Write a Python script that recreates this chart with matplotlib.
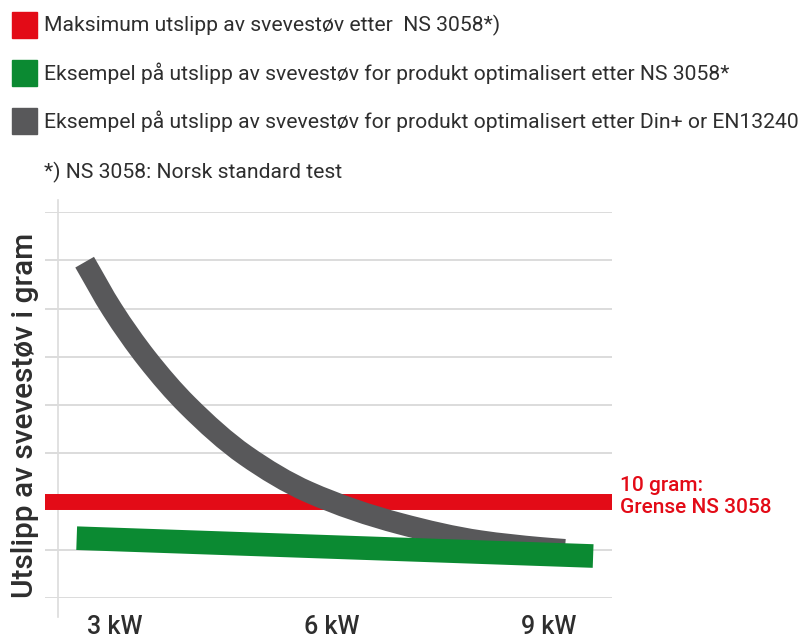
import numpy as np
import matplotlib
matplotlib.use("Agg")
import matplotlib.pyplot as plt
from matplotlib.patches import Rectangle, PathPatch
from matplotlib.path import Path

plt.rcParams['font.family'] = ['Roboto', 'DejaVu Sans']

# data (x in kW, y in gram)
red_limit = 10.0
green_kw = [2.47, 9.61]
green_g = [6.2, 4.35]
gray_kw = [2.58, 2.96, 3.44, 4.0, 4.8, 5.67, 6.94, 8.05, 8.88, 9.22]
gray_g = [34.8, 29.9, 24.8, 20.0, 14.8, 11.0, 7.7, 5.9, 5.2, 5.0]
x_ticks = [3, 6, 9]
x_labels = ['3 kW', '6 kW', '9 kW']
y_grid = [0, 5, 10, 15, 20, 25, 30, 35, 40]

legend_items = [
    ('#e30b17', 'Maksimum utslipp av svevestøv etter  NS 3058*)'),
    ('#0b8a32', 'Eksempel på utslipp av svevestøv for produkt optimalisert etter NS 3058*'),
    ('#58585a', 'Eksempel på utslipp av svevestøv for produkt optimalisert etter Din+ or EN13240'),
]
footnote = '*) NS 3058: Norsk standard test'
ylabel = 'Utslipp av svevestøv i gram'
red_note = '10 gram:\nGrense NS 3058'

RED = '#e30b17'
GREEN = '#0b8a32'
GRAY = '#58585a'
TXT = '#2e2e2e'


def smooth_path(xs, ys):
    # smoothed line through the read points, drawn as cubic bezier segments
    x = np.asarray(xs, float)
    y = np.asarray(ys, float)
    h = np.diff(x)
    d = np.diff(y) / h
    m = np.empty_like(x)
    m[0], m[-1] = d[0], d[-1]
    for i in range(1, len(x) - 1):
        w1, w2 = 2 * h[i] + h[i - 1], h[i] + 2 * h[i - 1]
        m[i] = (w1 + w2) / (w1 / d[i - 1] + w2 / d[i])
    verts = [(x[0], y[0])]
    codes = [Path.MOVETO]
    for i in range(len(x) - 1):
        verts += [(x[i] + h[i] / 3, y[i] + m[i] * h[i] / 3),
                  (x[i + 1] - h[i] / 3, y[i + 1] - m[i + 1] * h[i] / 3),
                  (x[i + 1], y[i + 1])]
        codes += [Path.CURVE4] * 3
    return Path(verts, codes)


W, H = 811, 641
fig = plt.figure(figsize=(W / 100, H / 100), dpi=100)
ax = fig.add_axes([45 / W, 1 - 598 / H, 567 / W, 386 / H])
ax.set_xlim(2.032, 9.871)
ax.set_ylim(0, 40)
for s in ax.spines.values():
    s.set_visible(False)

for g in y_grid:
    ax.axhline(g, color='#dcdcdc', lw=1.4, zorder=0)
ax.plot([2.212, 2.212], [-2.0, 41.2], color='#dcdcdc', lw=1.2, clip_on=False, zorder=0)

ax.axhline(red_limit, color=RED, lw=11.5, solid_capstyle='butt', zorder=2)
ax.add_patch(PathPatch(smooth_path(gray_kw, gray_g), fill=False, edgecolor=GRAY,
                       lw=15.5, capstyle='butt', joinstyle='round', zorder=3))
ax.plot(green_kw, green_g, color=GREEN, lw=17, solid_capstyle='butt', zorder=4)

ax.set_xticks(x_ticks)
ax.set_xticklabels(x_labels, fontsize=18, color=TXT, fontweight='medium')
ax.set_yticks([])
ax.tick_params(axis='x', length=0, pad=12)

fig.text(25 / W, 1 - 415 / H, ylabel, rotation=90, ha='center', va='center',
         fontsize=21.5, color=TXT, fontweight='medium')

ax.text(1.014, red_limit + 0.5, red_note, transform=ax.get_yaxis_transform(),
        ha='left', va='center', fontsize=15, color=RED, fontweight='medium',
        linespacing=1.2)

for i, (c, label) in enumerate(legend_items):
    yc = 25 + 48 * i
    fig.add_artist(Rectangle((12 / W, 1 - (yc + 12.5) / H), 25 / W, 25 / H,
                             transform=fig.transFigure, color=c))
    fig.text(44 / W, 1 - yc / H, label, ha='left', va='center', fontsize=15.2, color=TXT)
fig.text(44 / W, 1 - 172 / H, footnote, ha='left', va='center', fontsize=15.2, color=TXT)

fig.savefig('out.png', dpi=100)
